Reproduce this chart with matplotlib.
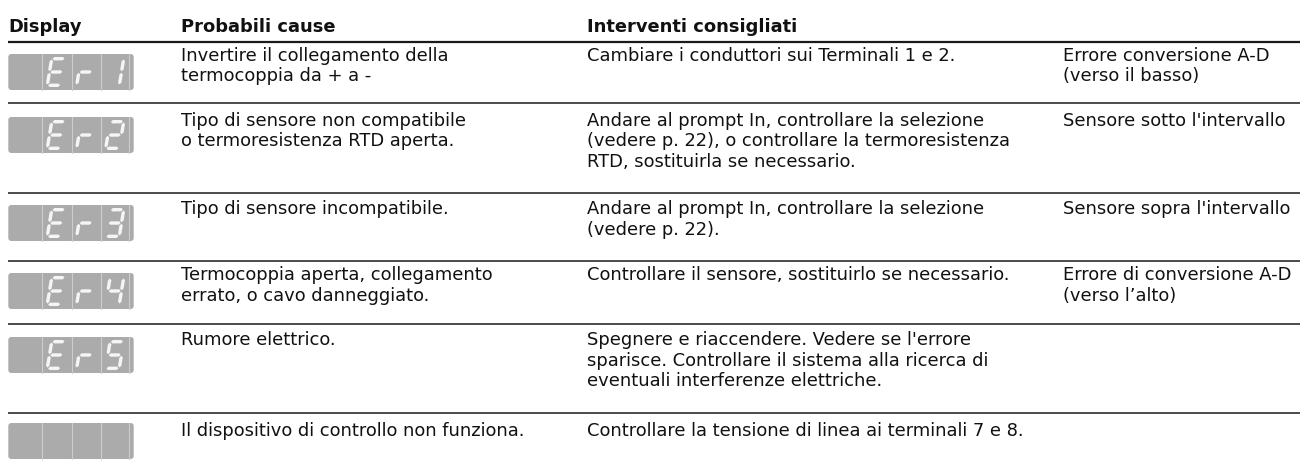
import matplotlib
matplotlib.use("Agg")
import matplotlib.pyplot as plt
from matplotlib.patches import FancyBboxPatch, Polygon

# ---------------- data ----------------
headers = ["Display", "Probabili cause", "Interventi consigliati"]
displays = [" Er1", " Er2", " Er3", " Er4", " Er5", "    "]
causes = [
    ["Invertire il collegamento della", "termocoppia da + a -"],
    ["Tipo di sensore non compatibile", "o termoresistenza RTD aperta."],
    ["Tipo di sensore incompatibile."],
    ["Termocoppia aperta, collegamento", "errato, o cavo danneggiato."],
    ["Rumore elettrico."],
    ["Il dispositivo di controllo non funziona."],
]
actions = [
    ["Cambiare i conduttori sui Terminali 1 e 2."],
    ["Andare al prompt In, controllare la selezione",
     "(vedere p. 22), o controllare la termoresistenza",
     "RTD, sostituirla se necessario."],
    ["Andare al prompt In, controllare la selezione", "(vedere p. 22)."],
    ["Controllare il sensore, sostituirlo se necessario."],
    ["Spegnere e riaccendere. Vedere se l'errore",
     "sparisce. Controllare il sistema alla ricerca di",
     "eventuali interferenze elettriche."],
    ["Controllare la tensione di linea ai terminali 7 e 8."],
]
notes = [
    ["Errore conversione A-D", "(verso il basso)"],
    ["Sensore sotto l'intervallo"],
    ["Sensore sopra l'intervallo"],
    ["Errore di conversione A-D", "(verso l\u2019alto)"],
    [],
    [],
]

# ---------------- layout (pixels) ----------------
W, H = 1303, 463
fig = plt.figure(figsize=(W / 100, H / 100), dpi=100)
ax = fig.add_axes([0, 0, 1, 1])
ax.set_xlim(0, W)
ax.set_ylim(H, 0)
ax.axis("off")

FONT = ["DejaVu Sans"]
FS = 12.9
col_x = [8, 181, 587, 1063]
header_base = 32.5
header_line = 41.7
row_lines = [103, 193, 261, 324, 412.5]
row_base = [60.7, 125.5, 214, 280.5, 345, 436.5]
icon_top = [54, 117, 205, 273, 337, 423]
line_gap = 20.7
line_x0, line_x1 = 8, 1300

# header
hx = [col_x[0], col_x[1], col_x[2]]
for x, t in zip(hx, headers):
    ax.text(x, header_base, t, fontsize=FS, fontweight="bold", family=FONT,
            va="baseline", ha="left", color="#111111")
ax.plot([line_x0, line_x1], [header_line, header_line], color="#1a1a1a", lw=1.6,
        solid_capstyle="butt")
for y in row_lines:
    ax.plot([line_x0, line_x1], [y, y], color="#1a1a1a", lw=1.1, solid_capstyle="butt")

# body text
for i in range(len(displays)):
    for col, lines in ((1, causes[i]), (2, actions[i]), (3, notes[i])):
        for k, s in enumerate(lines):
            ax.text(col_x[col], row_base[i] + k * line_gap, s, fontsize=FS,
                    family=FONT, va="baseline", ha="left", color="#111111")

# ---------------- seven-segment display icons ----------------
SEGS = {
    "E": "adefg", "r": "eg", "1": "bc", "2": "abged", "3": "abgcd",
    "4": "fgbc", "5": "afgcd", " ": "",
}
cell_edges = [8.3, 42.3, 71.7, 100.7, 128.7, 133.7]
ICON_H = 36
DW, DH, SL, T, GAP = 17.0, 30, 5.0, 3.4, 0.8


def seg_poly(name):
    h = T / 2
    if name in "adg":
        v = {"a": h, "g": DH / 2, "d": DH - h}[name]
        u1, u2 = h + GAP, DW - h - GAP
        return [(u1, v), (u1 + h, v - h), (u2 - h, v - h), (u2, v), (u2 - h, v + h), (u1 + h, v + h)]
    u = h if name in "ef" else DW - h
    if name in "fb":
        v1, v2 = h + GAP, DH / 2 - GAP
    else:
        v1, v2 = DH / 2 + GAP, DH - h - GAP
    return [(u, v1), (u + h, v1 + h), (u + h, v2 - h), (u, v2), (u - h, v2 - h), (u - h, v1 + h)]


def draw_char(ch, x0, y0):
    for s in SEGS.get(ch, ""):
        pts = [(x0 + u + SL * (DH - v) / DH, y0 + v) for u, v in seg_poly(s)]
        ax.add_patch(Polygon(pts, closed=True, facecolor="#f5f5f5", edgecolor="none"))


for i, disp in enumerate(displays):
    top = icon_top[i]
    box = FancyBboxPatch((cell_edges[0], top), cell_edges[-1] - cell_edges[0], ICON_H,
                         boxstyle="round,pad=0,rounding_size=3",
                         facecolor="#ababab", edgecolor="none")
    ax.add_patch(box)
    for xe in cell_edges[1:-1]:
        ax.plot([xe, xe], [top, top + ICON_H], color="#cdcdcd", lw=0.8)
    for c, ch in enumerate(disp):
        left = cell_edges[c]
        draw_char(ch, left + 3.0, top + 3)

fig.savefig("out.png", dpi=100)
